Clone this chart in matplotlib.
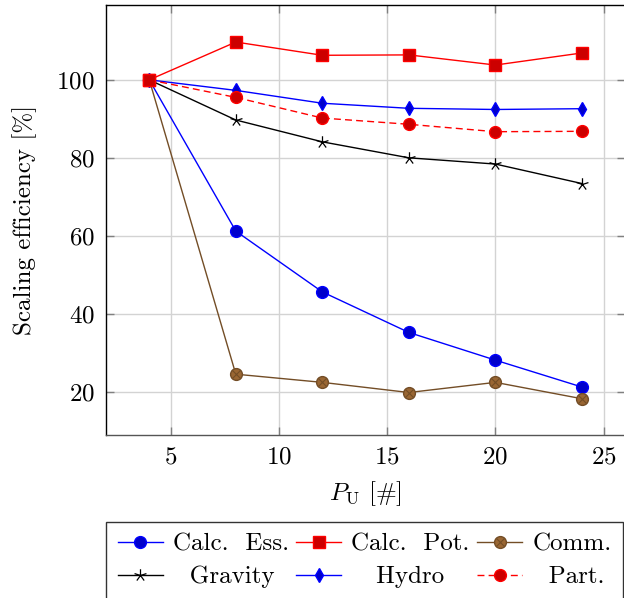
import matplotlib
matplotlib.use("Agg")
import matplotlib.pyplot as plt
from matplotlib.path import Path
from matplotlib.legend_handler import HandlerTuple
import numpy as np

plt.rcParams['font.family'] = ['cmr10', 'DejaVu Serif']
plt.rcParams['mathtext.fontset'] = 'cm'
plt.rcParams['axes.unicode_minus'] = False
plt.rcParams['axes.formatter.use_mathtext'] = True

P_U = [4, 8, 12, 16, 20, 24]
calc_ess = [100, 61.2, 45.6, 35.2, 28.1, 21.2]
calc_pot = [100, 109.7, 106.3, 106.4, 103.8, 106.9]
comm = [100, 24.5, 22.4, 19.8, 22.4, 18.2]
gravity = [100, 89.7, 84.1, 80.0, 78.4, 73.4]
hydro = [100, 97.3, 94.0, 92.7, 92.4, 92.6]
part = [100, 95.5, 90.2, 88.6, 86.7, 86.8]

xticks = [5, 10, 15, 20, 25]
yticks = [20, 40, 60, 80, 100]

# 5-ray star marker (line rays)
ang = np.deg2rad(90 + 72 * np.arange(5))
verts, codes = [], []
for a in ang:
    verts += [(0, 0), (np.cos(a), np.sin(a))]
    codes += [Path.MOVETO, Path.LINETO]
star = Path(verts, codes)

fig = plt.figure(figsize=(6.24, 5.98), dpi=100)
ax = fig.add_axes([106/624, 1 - 435/598, 1 - 106/624 + 0.002, (435 - 5)/598])

lw = 1.0
h1, = ax.plot(P_U, calc_ess, color='blue', lw=lw, marker='o', ms=8.5,
              mfc='#0000cc', mec='blue', zorder=3)
h2, = ax.plot(P_U, calc_pot, color='red', lw=lw, marker='s', ms=9,
              mfc='#cc0000', mec='red', zorder=3)
h3, = ax.plot(P_U, comm, color='#734d26', lw=lw, marker='o', ms=8.5,
              mfc='#996633', mec='#734d26', zorder=3)
h3x, = ax.plot(P_U, comm, ls='none', marker='x', ms=5.5, mew=0.8,
               mec='#734d26', zorder=4)
h4, = ax.plot(P_U, gravity, color='black', lw=lw, marker=star, ms=9,
              mew=0.9, mec='black', zorder=3)
h5, = ax.plot(P_U, hydro, color='blue', lw=lw, marker='d', ms=7.5,
              mfc='#0000cc', mec='blue', zorder=3)
h6, = ax.plot(P_U, part, color='red', lw=lw, ls=(0, (5, 3)), marker='o', ms=8.5,
              mfc='#cc0000', mec='red', zorder=3)
ax.plot(P_U[:1], calc_pot[:1], ls='none', marker='s', ms=9,
        mfc='#cc0000', mec='red', zorder=5)

ax.set_xlim(2, 26)
ax.set_ylim(8.9, 119.2)
ax.set_xticks(xticks)
ax.set_yticks(yticks)
ax.grid(True, color='#d3d3d3', lw=1.0)
ax.set_axisbelow(True)
ax.tick_params(direction='in', length=6, width=1.0, color='#808080',
               labelsize=18, top=True, right=True, pad=8)
for s in ['left', 'top']:
    ax.spines[s].set_color('black')
ax.spines['bottom'].set_color('#555555')
ax.spines['right'].set_visible(False)
for s in ax.spines.values():
    s.set_linewidth(1.0)

ax.set_ylabel('Scaling efficiency [%]', fontsize=18, labelpad=14)
ax.set_xlabel(r'$P_{\mathrm{U}}$ [#]', fontsize=18, labelpad=8)

# column-major order so rows read: Calc. Ess., Calc. Pot., Comm. / Gravity, Hydro, Part.
handles = [h1, h4, h2, h5, (h3, h3x), h6]
labels = ['Calc.  Ess.', '  Gravity', 'Calc.  Pot.', '   Hydro', 'Comm.', '  Part.']
leg = fig.legend(handles, labels, ncol=3, loc='upper center',
                 bbox_to_anchor=(364.5/624, 1 - 522/598),
                 bbox_transform=fig.transFigure,
                 handler_map={tuple: HandlerTuple(ndivide=1, pad=0)},
                 fontsize=18, frameon=True, fancybox=False, edgecolor='black',
                 handlelength=1.8, handletextpad=0.4, columnspacing=0.3,
                 labelspacing=0.4, borderpad=0.45, borderaxespad=0)
leg.get_frame().set_linewidth(1.0)

fig.savefig('out.png', dpi=100)
